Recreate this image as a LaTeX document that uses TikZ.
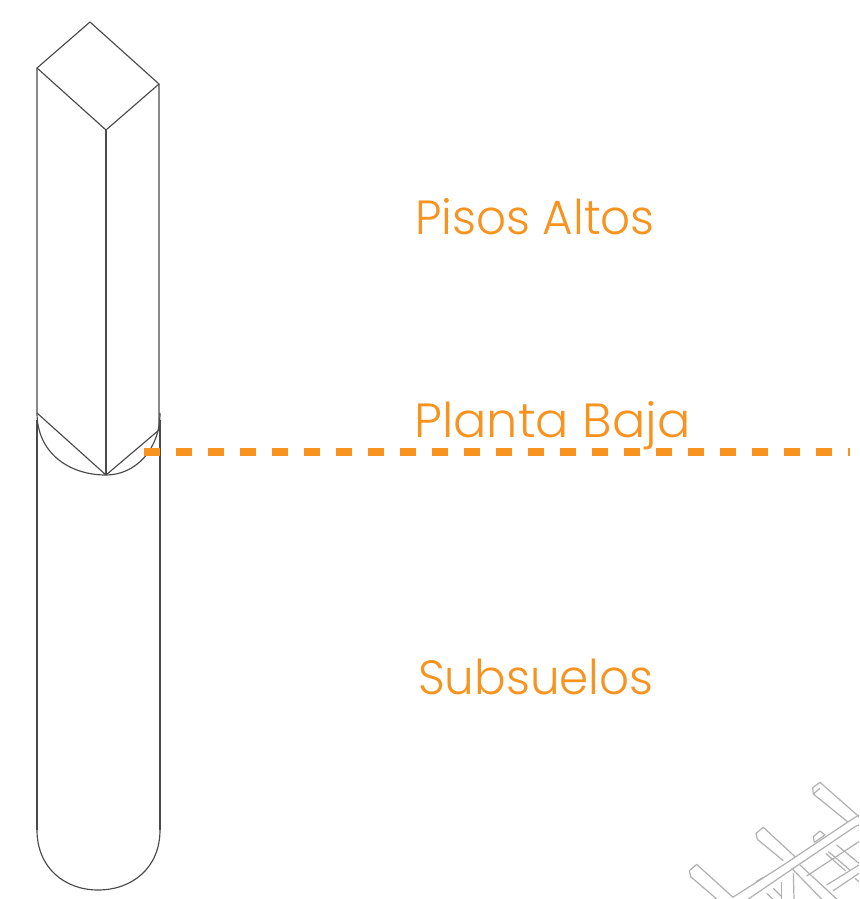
\documentclass[tikz,border=0pt]{standalone}
\usepackage{fontspec}
\setmainfont{Poppins Light}
\definecolor{lab}{HTML}{F7931E}
\definecolor{ink}{HTML}{4A4A4A}
\definecolor{far}{HTML}{B0B0B0}
\tikzset{
  edgeline/.style={draw=ink,line width=1.15pt,line join=round},
  farline/.style={draw=far,line width=1.2pt,line join=round},
  lbl/.style={text=lab,anchor=base west,inner sep=0pt,font=\fontsize{48}{50}\selectfont},
  level/.style={draw=lab,line width=8pt,dash pattern=on 16pt off 16pt}
}
\begin{document}
\begin{tikzpicture}[x=1pt,y=-1pt]
\useasboundingbox (0,0) rectangle (859,899);
\clip (0,0) rectangle (859,899);
% column
\coordinate (a) at (90,22);
\coordinate (b) at (37,68);
\coordinate (c) at (106,130);
\coordinate (d) at (159,84);
\coordinate (e) at (37,413);
\coordinate (f) at (106,475);
\coordinate (g) at (159,430);
\draw[edgeline] (a)--(b)--(c)--(d)--cycle;
\draw[edgeline] (b)--(e)--(f)--(g)--(d);
\draw[edgeline] (c)--(f);
\draw[edgeline] (37,413) .. controls (37,452) and (68,475) .. (106,475) .. controls (135,475) and (160,450) .. (160,413);
\draw[edgeline] (37,420)--(37,830);
\draw[edgeline] (160,420)--(160,830);
\draw[edgeline] (37,830) .. controls (37,868) and (65,890) .. (98,890) .. controls (132,890) and (160,868) .. (160,830);
% level line
\coordinate (l0) at (144,451.5);
\coordinate (l1) at (850,451.5);
\draw[level] (l0)--(l1);
% labels
\node[lbl,xscale=0.975] (pa) at (415,234.5) {Pisos Altos};
\node[lbl,xscale=1.03] (pb) at (414,437.5) {Planta Baja};
\node[lbl,xscale=0.975] (ss) at (418,694.5) {Subsuelos};
% distant structure
\begin{scope}[shift={(680,770)},x=0.3333pt,y=-0.3333pt]
\draw[farline] (537,140)--(420,37)--(398,53)--(400,72)--(505,157);
\draw[farline] (400,72)--(420,55);
\draw[farline] (345,260)--(250,172)--(228,190)--(232,208)--(310,272);
\draw[farline] (360,285)--(470,387);
\draw[farline] (335,295)--(425,387);
\draw[farline] (160,383)--(50,283)--(28,302)--(32,320)--(110,387);
\draw[farline] (160,381)--(310,285)--(505,155)--(537,135);
\draw[farline] (205,387)--(340,295)--(525,170)--(537,165);
\draw[farline] (380,318)--(537,215);
\draw[farline] (440,345)--(537,285);
\draw[farline] (460,362)--(537,310);
\draw[farline] (403,217)--(400,200)--(420,183)--(435,195)--(403,217);
\draw[farline] (340,310)--(342,387);
\draw[farline] (305,335)--(305,387);
\draw[farline] (445,245)--(510,300);
\draw[farline] (437,250)--(497,303);
\draw[farline] (470,225)--(537,280);
\draw[farline] (260,370)--(278,387);
\draw[farline] (280,355)--(305,380);
\draw[farline] (228,335)--(250,322);
\draw[farline] (525,325)--(537,335);
\end{scope}
\end{tikzpicture}
\end{document}
